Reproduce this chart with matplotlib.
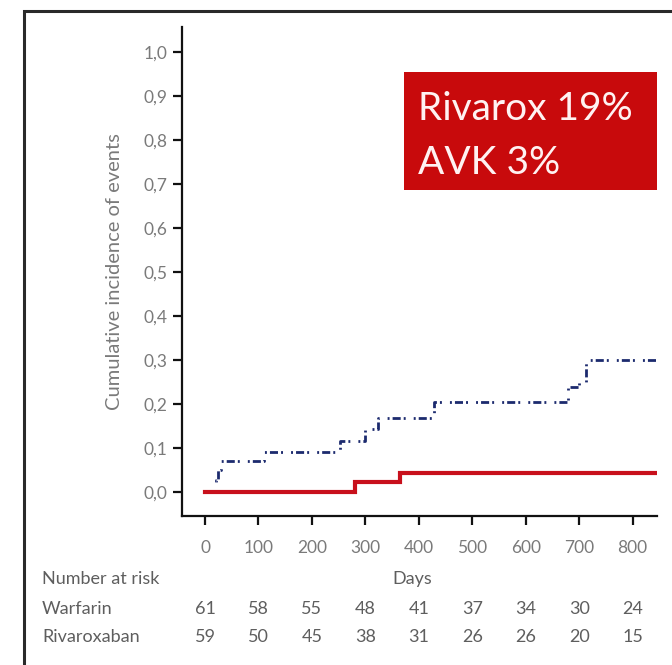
import matplotlib
matplotlib.use("Agg")
import matplotlib.pyplot as plt
import matplotlib.transforms as mtransforms
from matplotlib.patches import Rectangle
import numpy as np

# ---- data ----
warf_times = [0, 20, 25, 30, 110, 253, 300, 324, 428, 680, 700, 712]
warf_vals = [0.0, 0.027, 0.05, 0.071, 0.091, 0.115, 0.142, 0.167, 0.204, 0.238, 0.25, 0.30]
riva_times = [0, 281, 365]
riva_vals = [0.0, 0.022, 0.044]
end_day = 843

x_ticks = [0, 100, 200, 300, 400, 500, 600, 700, 800]
y_ticks = [0.0, 0.1, 0.2, 0.3, 0.4, 0.5, 0.6, 0.7, 0.8, 0.9, 1.0]
y_tick_labels = ["0,0", "0,1", "0,2", "0,3", "0,4", "0,5", "0,6", "0,7", "0,8", "0,9", "1,0"]
risk_warfarin = [61, 58, 55, 48, 41, 37, 34, 30, 24]
risk_rivaroxaban = [59, 50, 45, 38, 31, 26, 26, 20, 15]
risk_groups = ["Warfarin", "Rivaroxaban"]
box_lines = ["Rivarox 19%", "AVK 3%"]

FONT = ["Lato", "DejaVu Sans"]
GREY = "#7a7a7a"
DGREY = "#5e5e5e"

fig = plt.figure(figsize=(6.72, 6.65), dpi=100)
fig.patch.set_facecolor("white")
ax = fig.add_axes([0.2704, 0.2245, 0.7068, 0.7349])

# frame around figure
fig.patches.append(Rectangle((24 / 672, -0.1), 1.2, 1 - 11 / 665 + 0.1,
                             transform=fig.transFigure, fill=False,
                             edgecolor="#2a2a2a", linewidth=2.2, zorder=0))

wt = warf_times + [end_day]
wv = warf_vals + [warf_vals[-1]]
rt = riva_times + [end_day]
rv = riva_vals + [riva_vals[-1]]

ax.step(wt, wv, where="post", color="#1c2a6e", linewidth=2.0,
        linestyle=(0, (2.9, 1.1, 0.7, 2.9, 0.7, 1.1)), zorder=2)
ax.step(rt, rv, where="post", color="#c8101c", linewidth=3.0, zorder=3,
        solid_joinstyle="miter")

ax.set_xlim(-43.6, 845)
ax.set_ylim(-0.054, 1.056)
for s in ["top", "right"]:
    ax.spines[s].set_visible(False)
for s in ["left", "bottom"]:
    ax.spines[s].set_linewidth(1.6)
    ax.spines[s].set_color("#111111")

ax.set_xticks(x_ticks)
ax.set_xticklabels([str(v) for v in x_ticks])
ax.set_yticks(y_ticks)
ax.set_yticklabels(y_tick_labels)
ax.tick_params(axis="both", direction="out", length=6.5, width=1.6, color="#111111",
               labelcolor=GREY, labelsize=12.5)
ax.tick_params(axis="x", pad=11)
ax.tick_params(axis="y", pad=4)
for lab in ax.get_xticklabels() + ax.get_yticklabels():
    lab.set_family(FONT)

ax.set_ylabel("Cumulative incidence of events", family=FONT, fontsize=14.5,
              color=GREY)
ax.yaxis.set_label_coords(-0.124, 0.5)

# red box with text
ax.add_patch(Rectangle((404 / 672, 1 - 190 / 665), (658 - 404) / 672, (190 - 72) / 665,
                       transform=fig.transFigure, facecolor="#c80a0c",
                       edgecolor="none", zorder=5))
fig.text(418 / 672, 1 - 109 / 665, box_lines[0], family=FONT,
         fontsize=28, color="#fff2f2", va="center", ha="left", zorder=6)
fig.text(418 / 672, 1 - 163 / 665, box_lines[1], family=FONT,
         fontsize=28, color="#fff2f2", va="center", ha="left", zorder=6)

# number at risk table
trans = mtransforms.blended_transform_factory(ax.transData, fig.transFigure)
fig.text(42 / 672, 1 - 579 / 665, "Number at risk", family=FONT, fontsize=13,
         color=DGREY, va="center", ha="left")
ax.text(387, 1 - 579 / 665, "Days", transform=trans, family=FONT, fontsize=13,
        color=DGREY, va="center", ha="center")
row_y = [609, 637]
for name, counts, yy in zip(risk_groups, [risk_warfarin, risk_rivaroxaban], row_y):
    fig.text(42 / 672, 1 - yy / 665, name, family=FONT, fontsize=13,
             color=DGREY, va="center", ha="left")
    for xv, c in zip(x_ticks, counts):
        ax.text(xv, 1 - yy / 665, str(c), transform=trans, family=FONT,
                fontsize=13, color=DGREY, va="center", ha="center")

fig.savefig("out.png", dpi=100, facecolor="white")
